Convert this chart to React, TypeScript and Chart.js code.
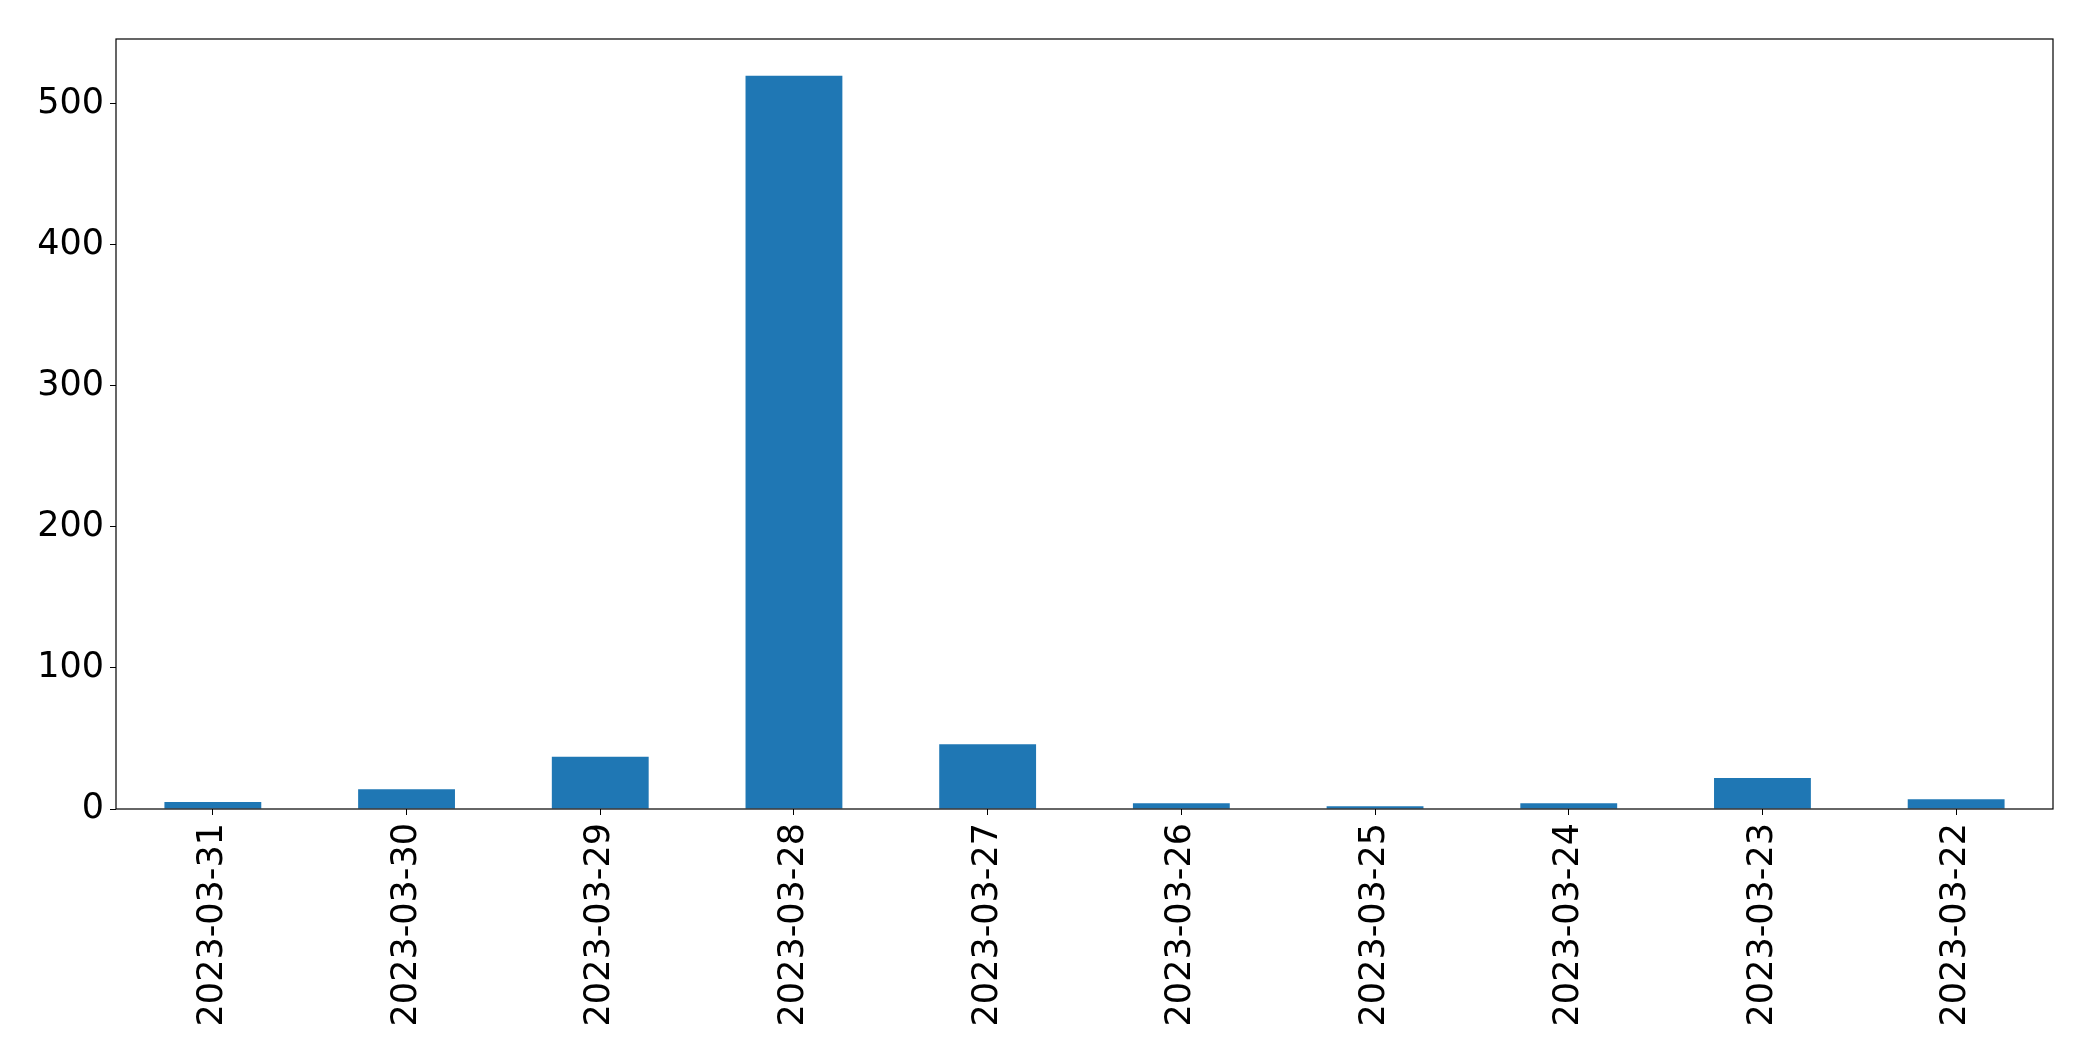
import React, { useEffect, useRef } from "react";
import { Chart, registerables } from "chart.js";

Chart.register(...registerables);

const categories = [
  "2023-03-31",
  "2023-03-30",
  "2023-03-29",
  "2023-03-28",
  "2023-03-27",
  "2023-03-26",
  "2023-03-25",
  "2023-03-24",
  "2023-03-23",
  "2023-03-22",
];
const counts = [5, 14, 37, 520, 46, 4, 2, 4, 22, 7];
const yTicks = [0, 100, 200, 300, 400, 500];
const yMax = 546;

const W = 2093;
const H = 1061;

const framePlugin = {
  id: "frame",
  afterDraw(chart: any) {
    const { ctx, chartArea } = chart;
    ctx.save();
    ctx.strokeStyle = "#000";
    ctx.lineWidth = 1.2;
    ctx.strokeRect(chartArea.left, chartArea.top, chartArea.right - chartArea.left, chartArea.bottom - chartArea.top);
    ctx.restore();
  },
};

export default function App() {
  const ref = useRef<HTMLCanvasElement>(null);
  useEffect(() => {
    document.body.style.margin = "0";
    const canvas = ref.current!;
    const font = { family: "'DejaVu Sans'", size: 35 };
    const chart = new Chart(canvas, {
      type: "bar",
      data: {
        labels: categories,
        datasets: [
          {
            data: counts,
            backgroundColor: "#1f77b4",
            barPercentage: 0.5,
            categoryPercentage: 1,
          },
        ],
      },
      options: {
        animation: false,
        responsive: false,
        maintainAspectRatio: false,
        layout: { padding: { top: 39, right: 40, left: 0, bottom: 0 } },
        plugins: { legend: { display: false }, tooltip: { enabled: false } },
        scales: {
          x: {
            grid: { display: true, offset: false, drawOnChartArea: false, drawTicks: true, tickLength: 6, color: "#000" },
            border: { display: false },
            ticks: { color: "#000", font, minRotation: 90, maxRotation: 90, padding: 8, autoSkip: false },
            afterFit(scale: any) {
              scale.height = H - 809;
            },
          },
          y: {
            min: 0,
            max: yMax,
            grid: { display: true, drawOnChartArea: false, drawTicks: true, tickLength: 6, color: "#000" },
            border: { display: false },
            ticks: { color: "#000", font, padding: 6 },
            afterBuildTicks(scale: any) {
              scale.ticks = yTicks.map((v) => ({ value: v }));
            },
            afterFit(scale: any) {
              scale.width = 116;
            },
          },
        },
      },
      plugins: [framePlugin],
    });
    return () => chart.destroy();
  }, []);
  return (
    <div style={{ width: W, height: H, background: "#fff" }}>
      <canvas ref={ref} width={W} height={H} style={{ width: W, height: H, display: "block" }} />
    </div>
  );
}
